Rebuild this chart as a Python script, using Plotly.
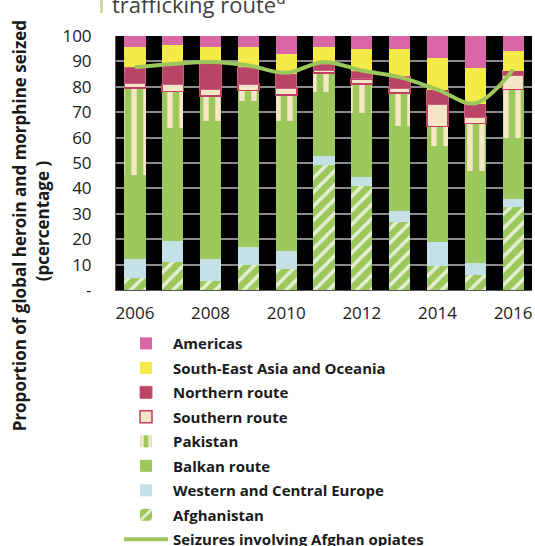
import plotly.graph_objects as go

years = [2006, 2007, 2008, 2009, 2010, 2011, 2012, 2013, 2014, 2015, 2016]

afghanistan = [4.7, 11.2, 3.5, 10.0, 8.4, 49.2, 41.1, 26.8, 9.6, 5.8, 32.8]
western_central_europe = [7.5, 8.1, 8.7, 7.0, 6.9, 3.7, 3.5, 4.4, 9.2, 4.8, 2.9]
balkan_route = [33.1, 44.3, 54.2, 57.5, 51.3, 25.1, 25.1, 33.2, 37.8, 36.4, 24.1]
pakistan = [34.3, 14.6, 10.0, 4.0, 10.2, 7.5, 11.4, 13.2, 7.8, 18.5, 19.1]
southern_route = [1.7, 2.7, 2.5, 2.6, 2.6, 1.0, 2.0, 1.8, 8.7, 2.6, 5.5]
northern_route = [6.4, 7.9, 10.9, 6.6, 5.8, 2.3, 3.0, 4.7, 5.8, 5.3, 2.0]
south_east_asia = [8.1, 7.5, 6.0, 8.1, 7.8, 7.0, 8.6, 10.6, 12.4, 14.2, 7.8]
americas = [4.2, 3.7, 4.2, 4.2, 7.0, 4.2, 5.3, 5.3, 8.7, 12.4, 5.8]
afghan_opiates = [87.7, 89.0, 89.8, 88.4, 85.5, 89.8, 86.4, 83.8, 78.9, 73.5, 86.8]

ytick_vals = [0, 10, 20, 30, 40, 50, 60, 70, 80, 90, 100]
ytick_text = ["-", "10", "20", "30", "40", "50", "60", "70", "80", "90", "100"]
xtick_vals = [2006, 2008, 2010, 2012, 2014, 2016]
xtick_text = ["2006", "2008", "2010", "2012", "2014", "2016"]

GREEN = "#9CC75A"
BEIGE = "#F5E7C5"

fig = go.Figure()

def add_bar(name, vals, rank, color, line_color=None, line_width=0, pattern=None):
    marker = dict(color=color, line=dict(color=line_color or color, width=line_width))
    if pattern:
        marker["pattern"] = pattern
    fig.add_trace(go.Bar(x=years, y=vals, name=name, marker=marker,
                         legendrank=rank, legendgroup=name, hoverinfo="skip"))

add_bar("Afghanistan", afghanistan, 8, GREEN,
        pattern=dict(shape="/", bgcolor=GREEN, fgcolor="#E3EFD2", size=10, solidity=0.35, fillmode="replace"))
add_bar("Western and Central Europe", western_central_europe, 7, "#C3E1E6")
add_bar("Balkan route", balkan_route, 6, GREEN)
add_bar("Pakistan", pakistan, 5, BEIGE,
        pattern=dict(shape="|", bgcolor=GREEN, fgcolor=BEIGE, size=12, solidity=0.45, fillmode="replace"))
add_bar("Southern route", southern_route, 4, BEIGE, line_color="#C23E62", line_width=1.5)
add_bar("Northern route", northern_route, 3, "#BA4466", line_color="#C9607E", line_width=1)
add_bar("South-East Asia and Oceania", south_east_asia, 2, "#F5EA48")
add_bar("Americas", americas, 1, "#D966A6")

fig.add_trace(go.Scatter(x=years, y=afghan_opiates, name="Seizures involving Afghan opiates",
                         mode="lines", line=dict(color=GREEN, width=4, shape="spline", smoothing=1.0),
                         legendrank=9, legendgroup="line", hoverinfo="skip"))

fig.update_layout(
    width=535, height=546,
    margin=dict(l=116, r=3, t=36, b=256, autoexpand=False),
    paper_bgcolor="white",
    plot_bgcolor="black",
    barmode="stack",
    bargap=0.44,
    showlegend=True,
    font=dict(family="Open Sans", color="#1a1a1a"),
    legend=dict(
        x=3 / 416, xanchor="left", y=-0.146, yanchor="top",
        traceorder="grouped", tracegroupgap=2,
        font=dict(family="Open Sans", size=15, weight=700, color="#1a1a1a"),
        itemwidth=44, bgcolor="rgba(0,0,0,0)",
    ),
    xaxis=dict(
        range=[2005.5, 2016.5], tickmode="array", tickvals=xtick_vals, ticktext=xtick_text,
        showgrid=False, zeroline=False, showline=True, linecolor="#555555", linewidth=1,
        tickfont=dict(size=17, color="#1a1a1a"), ticks="", ticklabelstandoff=8,
    ),
    yaxis=dict(
        range=[0, 100], tickmode="array", tickvals=ytick_vals, ticktext=ytick_text,
        showgrid=True, gridcolor="#8a8a8a", gridwidth=1.5, zeroline=False,
        showline=True, linecolor="#555555", linewidth=1,
        tickfont=dict(size=17, color="#1a1a1a"), ticks="", ticklabelstandoff=20,
    ),
)

# y-axis title (two lines)
fig.add_annotation(text="<b>Proportion of global heroin and morphine seized</b>",
                   xref="paper", yref="paper", x=(19 - 116) / 416, y=(289.6 - 226) / 253.6,
                   xanchor="center", yanchor="middle", textangle=-90, showarrow=False,
                   font=dict(family="Open Sans", size=17, color="#1a1a1a"))
fig.add_annotation(text="<b>(pcercentage )</b>",
                   xref="paper", yref="paper", x=(42 - 116) / 416, y=(289.6 - 221) / 253.6,
                   xanchor="center", yanchor="middle", textangle=-90, showarrow=False,
                   font=dict(family="Open Sans", size=17, color="#1a1a1a"))

# partially visible title
fig.add_annotation(text="trafficking route<sup>d</sup>",
                   xref="paper", yref="paper", x=(110 - 116) / 416, y=1 + (36 - 21) / 253.6,
                   xanchor="left", yanchor="bottom", showarrow=False,
                   font=dict(family="Open Sans", size=22, color="#404040"))
fig.add_shape(type="rect", xref="paper", yref="paper",
              x0=(100 - 116) / 416, x1=(103 - 116) / 416, y0=1 + 23 / 253.6, y1=1.2,
              fillcolor="#C5DFA4", line=dict(width=0), layer="above")

fig.write_html("out.html", config={"displayModeBar": False},
               post_script="document.body.style.margin='0';document.body.style.padding='0';")
